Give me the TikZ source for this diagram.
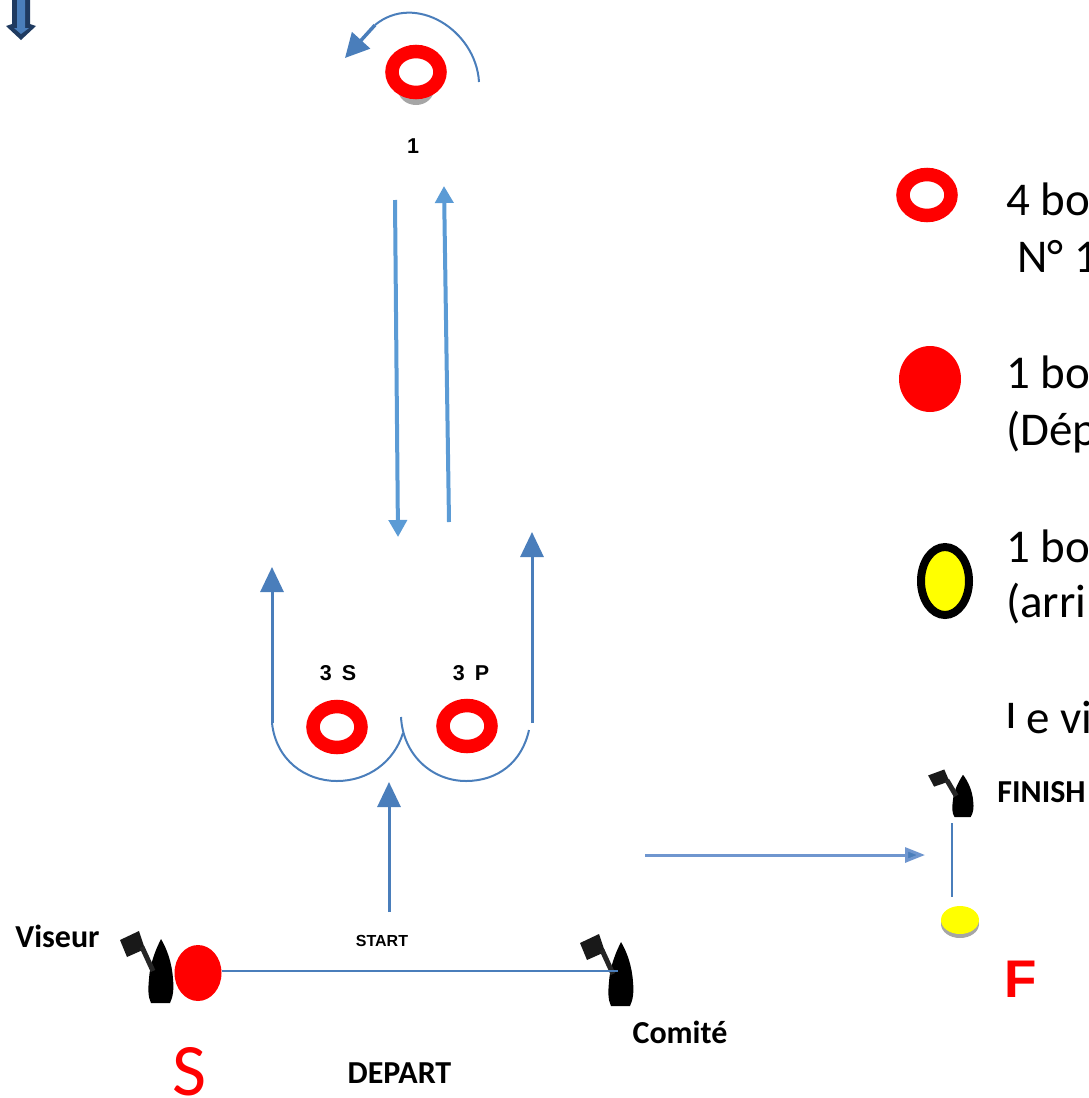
\documentclass[tikz,border=0pt]{standalone}
\usepackage{fontspec}
\setmainfont{Carlito}
\newfontfamily\arialf{Liberation Sans}
\usetikzlibrary{arrows.meta,shapes.geometric}
\definecolor{lineblue}{HTML}{4A7EBB}
\definecolor{skyblue}{HTML}{5B9BD5}
\definecolor{softblue}{HTML}{6F96CF}
\definecolor{navyblue}{HTML}{1F3A60}
\definecolor{shadowgray}{HTML}{A6A6A6}
\definecolor{buoyyellow}{HTML}{FFFF00}
\definecolor{buoyred}{HTML}{FF0000}
\tikzset{
  ring/.style={draw=buoyred,line width=13.5pt,fill=white,shape=ellipse,minimum width=48pt,minimum height=41pt,inner sep=0pt,outer sep=0pt},
  disc/.style={shape=ellipse,fill=buoyred,inner sep=0pt,outer sep=0pt},
  legendtext/.style={anchor=base west,inner sep=0pt,font=\fontsize{47}{47}\selectfont,text=black},
  boldlabel/.style={inner sep=0pt,font=\fontsize{32}{32}\selectfont\bfseries,text=black},
  numlabel/.style={inner sep=0pt,font=\arialf\fontsize{21.5}{22}\selectfont\bfseries,text=black},
  bluearrow/.style={draw=lineblue,line width=3pt,-{Triangle[length=25pt,width=23pt]}},
  skyarrow/.style={draw=skyblue,line width=4pt,-{Triangle[length=17pt,width=18pt]}},
  thinblue/.style={draw=lineblue,line width=2pt},
  pics/boat/.style={code={
    \fill[black] (-10,0) .. controls (-13,-6) and (-13,-14) .. (-12,-24) .. controls (-11,-40) and (-5,-54) .. (0,-64) .. controls (6,-54) and (11,-40) .. (12,-24) .. controls (13,-14) and (12,-6) .. (9,0) -- cycle;
    \fill[black!90] (-41,-63) -- (-22,-72) -- (-16,-54) -- (-34,-46) -- cycle;
    \draw[black!85,line width=5pt] (-19,-56) -- (-8,-32);
  }}
}
\begin{document}
\begin{tikzpicture}[x=1pt,y=-1pt]
\useasboundingbox (0,0) rectangle (1089,1098);
\clip (0,0) rectangle (1089,1098);
% top-left block arrow
\fill[navyblue] (12,0) -- (30,0) -- (30,24) -- (36,26) -- (21,40) -- (6,26) -- (12,24) -- cycle;
\fill[lineblue] (17,0) -- (25,0) -- (25,28) -- (29,28) -- (21,34) -- (14,28) -- (17,28) -- cycle;
% buoy shadows
\fill[shadowgray] (416,89) ellipse (18pt and 16pt);
\fill[shadowgray] (960,924) ellipse (19pt and 14pt);
% rings and discs
\node[ring] (markone) at (416,72) {};
\node[ring] (threeS) at (337,727) {};
\node[ring] (threeP) at (467,726) {};
\node[ring] (legendring) at (927,195) {};
\node[disc,minimum width=62pt,minimum height=66pt] (legenddisc) at (930,379) {};
\node[shape=ellipse,draw=black,fill=buoyyellow,line width=8pt,minimum width=48pt,minimum height=68pt,inner sep=0pt,outer sep=0pt] (legendyellow) at (945,581) {};
\node[disc,minimum width=47pt,minimum height=56pt] (startbuoy) at (198,973) {};
\node[shape=ellipse,fill=buoyyellow,minimum width=38pt,minimum height=28pt,inner sep=0pt,outer sep=0pt] (finishbuoy) at (960,920) {};
% boats
\pic at (161,1003) {boat};
\pic at (621,1006) {boat};
\pic[xscale=.85,yscale=.66] at (963,817) {boat};
\coordinate (comite) at (618,971);
\coordinate (finishboat) at (952,823);
\coordinate (finishend) at (952,897);
% start and finish lines
\draw[thinblue] (startbuoy.east |- comite) -- (comite);
\draw[thinblue] (finishboat) -- (finishend);
% rounding arc at mark 1
\coordinate (arcstart) at (479,82);
\coordinate (arcend) at (375,25);
\coordinate (arctip) at (345,58);
\draw[thinblue] (arcstart) .. controls (476,30) and (415,-8) .. (arcend);
\draw[draw=lineblue,line width=3.5pt,-{Triangle[length=24pt,width=24pt]}] (arcend) -- (arctip);
% long legs
\coordinate (a1) at (395,200); \coordinate (a2) at (398,537);
\coordinate (b1) at (449,522); \coordinate (b2) at (444,186);
\draw[skyarrow] (a1) -- (a2);
\draw[skyarrow] (b1) -- (b2);
% arrows round gate 3
\coordinate (l1) at (272,723); \coordinate (l2) at (272,567);
\coordinate (r1) at (532,723); \coordinate (r2) at (532,532);
\coordinate (c1) at (389,912); \coordinate (c2) at (389,782);
\draw[bluearrow] (l1) -- (l2);
\draw[bluearrow] (r1) -- (r2);
\draw[bluearrow] (c1) -- (c2);
\draw[thinblue] (l1) .. controls (276,760) and (305,781) .. (337,781) .. controls (368,781) and (394,762) .. (403,733);
\draw[thinblue] (401,717) .. controls (403,755) and (432,781) .. (466,781) .. controls (498,781) and (522,762) .. (529,730);
% arrow to finish
\coordinate (f1) at (645,855); \coordinate (f2) at (925,855);
\draw[draw=softblue,line width=3pt,-{Triangle[length=20pt,width=15pt,fill=lineblue]}] (f1) -- (f2);
% labels
\node[numlabel] (lblone) at (413,146) {1};
\node[numlabel] (lblS) at (338,673) {3\hspace{10pt}S};
\node[numlabel] (lblP) at (471,673) {3\hspace{10pt}P};
\node[inner sep=0pt,font=\arialf\fontsize{16}{16}\selectfont\bfseries] (lblstart) at (382,941) {START};
\node[boldlabel] (viseur) at (57.5,936) {Viseur};
\node[boldlabel] (lblcomite) at (680,1032) {Comité};
\node[boldlabel] (depart) at (399.5,1073) {DEPART};
\node[boldlabel] (finish) at (1041.5,792) {FINISH};
\node[anchor=base,inner sep=0pt,text=buoyred,font=\fontsize{74}{74}\selectfont] (bigS) at (189,1095) {S};
\node[anchor=base,inner sep=0pt,text=buoyred,font=\arialf\fontsize{53}{53}\selectfont\bfseries] (bigF) at (1020.5,997) {F};
% legend text
\node[legendtext] (t1) at (1006,215) {4 bo};
\node[legendtext] (t2) at (1017,272) {N° 1};
\node[legendtext] (t3) at (1006,388) {1 bo};
\node[legendtext] (t4) at (1006,445) {(Dép};
\node[legendtext] (t5) at (1006,562) {1 bo};
\node[legendtext] (t6) at (1006,617) {(arri};
\node[legendtext] (t7) at (1005,733) {I};
\fill[white] (1000,728) rectangle (1022,738);
\node[legendtext] (t8) at (1026,733) {e vi};
\end{tikzpicture}
\end{document}
